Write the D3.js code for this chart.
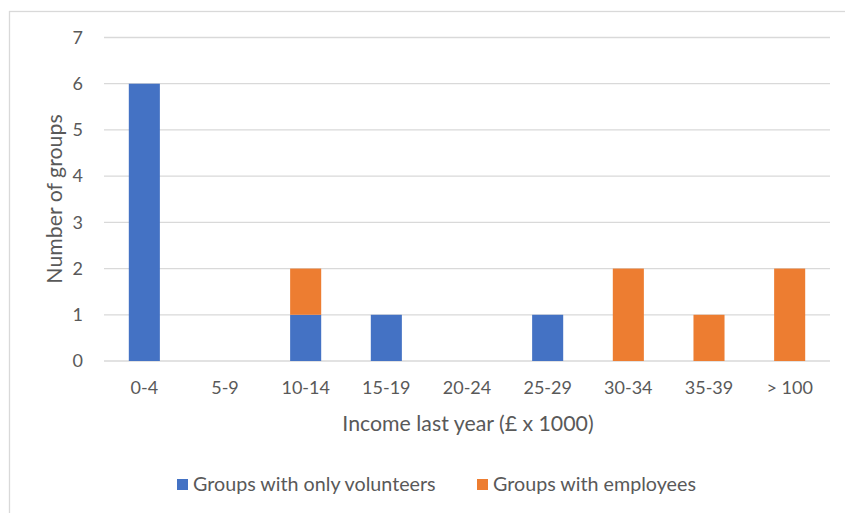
<!DOCTYPE html>
<html>
<head>
<meta charset="utf-8">
<script src="https://cdn.jsdelivr.net/npm/d3@7/dist/d3.min.js"></script>
<style>
  html, body { margin: 0; padding: 0; background: #fff; }
  svg text { font-family: Lato, "Open Sans", sans-serif; fill: #595959; }
</style>
</head>
<body>
<svg id="chart" width="845" height="513"></svg>
<script>
// Income bands (in £ x 1000) and counts of groups per band
const categories = ["0-4", "5-9", "10-14", "15-19", "20-24", "25-29", "30-34", "35-39", "> 100"];
const volunteersOnly = [6, 0, 1, 1, 0, 1, 0, 0, 0];
const withEmployees = [0, 0, 1, 0, 0, 0, 2, 1, 2];
const yTicks = [0, 1, 2, 3, 4, 5, 6, 7];
const seriesNames = ["Groups with only volunteers", "Groups with employees"];
const seriesColors = ["#4472C4", "#ED7D31"];

const svg = d3.select("#chart");

// outer chart frame
svg.append("rect")
  .attr("x", 9.5).attr("y", 11.5)
  .attr("width", 900).attr("height", 600)
  .attr("fill", "#fff").attr("stroke", "#D9D9D9").attr("stroke-width", 1.3);

const plot = { left: 104, right: 830, top: 37.5, bottom: 361 };

const x = d3.scaleBand()
  .domain(categories)
  .range([plot.left, plot.right])
  .paddingInner(0.615)
  .paddingOuter(0.3075);

const y = d3.scaleLinear()
  .domain([0, 7])
  .range([plot.bottom, plot.top]);

// horizontal gridlines
svg.append("g")
  .selectAll("line")
  .data(yTicks)
  .join("line")
  .attr("x1", plot.left).attr("x2", plot.right)
  .attr("y1", d => y(d)).attr("y2", d => y(d))
  .attr("stroke", "#D9D9D9").attr("stroke-width", 1.3);

// stacked bars
const rows = categories.map((c, i) => ({ cat: c, vol: volunteersOnly[i], emp: withEmployees[i] }));
const stack = d3.stack().keys(["vol", "emp"])(rows);

svg.append("g")
  .selectAll("g")
  .data(stack)
  .join("g")
  .attr("fill", (d, i) => seriesColors[i])
  .selectAll("rect")
  .data(d => d.filter(s => s[1] - s[0] > 0))
  .join("rect")
  .attr("x", d => x(d.data.cat))
  .attr("width", x.bandwidth())
  .attr("y", d => y(d[1]))
  .attr("height", d => y(d[0]) - y(d[1]));

// y axis labels
const yAxis = d3.axisLeft(y).tickValues(yTicks).tickFormat(d3.format("d")).tickSize(0).tickPadding(0);
const yg = svg.append("g").attr("transform", `translate(${plot.left - 21},0)`).call(yAxis);
yg.select(".domain").remove();
yg.selectAll("text").attr("font-size", 18).attr("font-family", "Lato, sans-serif").attr("fill", "#595959");

// x axis labels
const xAxis = d3.axisBottom(x).tickSize(0).tickPadding(0);
const xg = svg.append("g").attr("transform", `translate(0,${plot.bottom + 20})`).call(xAxis);
xg.select(".domain").remove();
xg.selectAll("text").attr("font-size", 18).attr("font-family", "Lato, sans-serif").attr("fill", "#595959");

// axis titles
svg.append("text")
  .attr("x", (plot.left + plot.right) / 2 + 1)
  .attr("y", 431)
  .attr("text-anchor", "middle")
  .attr("font-size", 21.3)
  .text("Income last year (£ x 1000)");

svg.append("text")
  .attr("transform", `translate(62,199) rotate(-90)`)
  .attr("text-anchor", "middle")
  .attr("font-size", 21.3)
  .text("Number of groups");

// legend
const legendX = [177, 477];
const legend = svg.append("g")
  .selectAll("g")
  .data(seriesNames)
  .join("g")
  .attr("transform", (d, i) => `translate(${legendX[i]},479)`);
legend.append("rect")
  .attr("width", 11).attr("height", 11)
  .attr("fill", (d, i) => seriesColors[i]);
legend.append("text")
  .attr("x", 16).attr("y", 12)
  .attr("font-size", 19.7)
  .text(d => d);
</script>
</body>
</html>
